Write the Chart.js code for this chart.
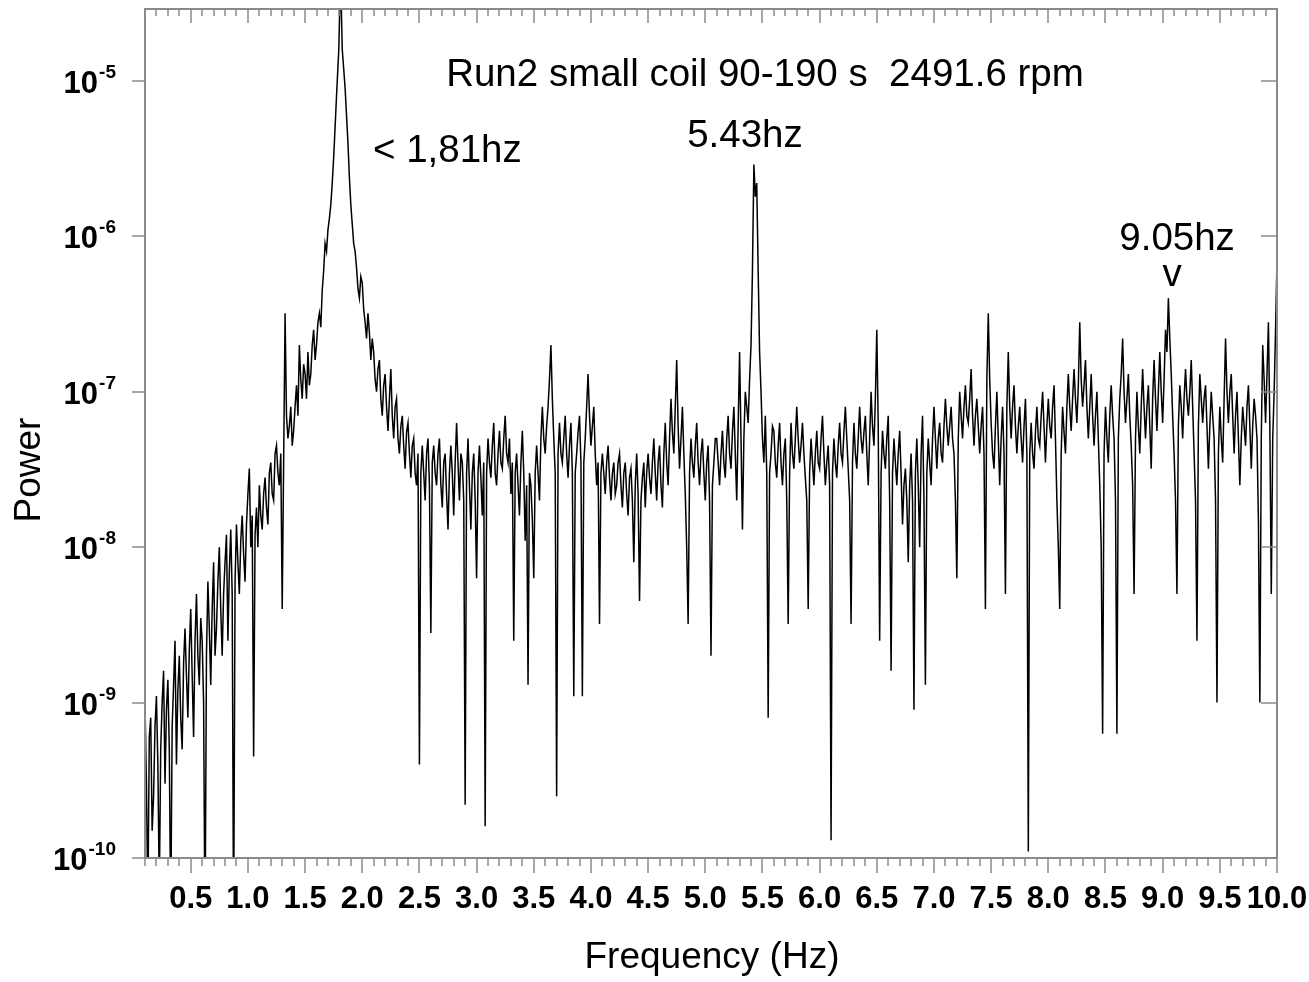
<!DOCTYPE html>
<html>
<head>
<meta charset="utf-8">
<script src="https://cdn.jsdelivr.net/npm/chart.js@4.4.1/dist/chart.umd.min.js"></script>
<style>
  body { margin: 0; background: #fff; }
  canvas { display: block; }
</style>
</head>
<body>
<canvas id="chart" width="1309" height="982"></canvas>
<script>
// Frequency bins (Hz), one row per 0.5 Hz
const freq = [
  0.1,0.1125,0.125,0.1375,0.15,0.1625,0.175,0.1875,0.2,0.2125,0.225,0.2375,0.25,0.2625,0.275,0.2875,0.3,0.3125,0.325,0.3375,0.35,0.3625,0.375,0.3875,0.4,0.4125,0.425,0.4375,0.45,0.4625,0.475,0.4875,0.5,0.5125,0.525,0.5375,0.55,0.5625,0.575,0.5875,
  0.6,0.6125,0.625,0.6375,0.65,0.6625,0.675,0.6875,0.7,0.7125,0.725,0.7375,0.75,0.7625,0.775,0.7875,0.8,0.8125,0.825,0.8375,0.85,0.8625,0.875,0.8875,0.9,0.9125,0.925,0.9375,0.95,0.9625,0.975,0.9875,1,1.0125,1.025,1.0375,1.05,1.0625,1.075,1.0875,
  1.1,1.1125,1.125,1.1375,1.15,1.1625,1.175,1.1875,1.2,1.2125,1.225,1.2375,1.25,1.2625,1.275,1.2875,1.3,1.3125,1.325,1.3375,1.35,1.3625,1.375,1.3875,1.4,1.4125,1.425,1.4375,1.45,1.4625,1.475,1.4875,1.5,1.5125,1.525,1.5375,1.55,1.5625,1.575,1.5875,
  1.6,1.6125,1.625,1.6375,1.65,1.6625,1.675,1.6875,1.7,1.7125,1.725,1.7375,1.75,1.775,1.795,1.81,1.825,1.85,1.875,1.8875,1.9,1.9125,1.925,1.9375,1.95,1.9625,1.975,1.9875,2,2.0125,2.025,2.0375,2.05,2.0625,2.075,2.0875,
  2.1,2.1125,2.125,2.1375,2.15,2.1625,2.175,2.1875,2.2,2.2125,2.225,2.2375,2.25,2.2625,2.275,2.2875,2.3,2.3125,2.325,2.3375,2.35,2.3625,2.375,2.3875,2.4,2.4125,2.425,2.4375,2.45,2.4625,2.475,2.4875,2.5,2.5125,2.525,2.5375,2.55,2.5625,2.575,2.5875,
  2.6,2.6125,2.625,2.6375,2.65,2.6625,2.675,2.6875,2.7,2.7125,2.725,2.7375,2.75,2.7625,2.775,2.7875,2.8,2.8125,2.825,2.8375,2.85,2.8625,2.875,2.8875,2.9,2.9125,2.925,2.9375,2.95,2.9625,2.975,2.9875,3,3.0125,3.025,3.0375,3.05,3.0625,3.075,3.0875,
  3.1,3.1125,3.125,3.1375,3.15,3.1625,3.175,3.1875,3.2,3.2125,3.225,3.2375,3.25,3.2625,3.275,3.2875,3.3,3.3125,3.325,3.3375,3.35,3.3625,3.375,3.3875,3.4,3.4125,3.425,3.4375,3.45,3.4625,3.475,3.4875,3.5,3.5125,3.525,3.5375,3.55,3.5625,3.575,3.5875,
  3.6,3.6125,3.625,3.6375,3.65,3.6625,3.675,3.6875,3.7,3.7125,3.725,3.7375,3.75,3.7625,3.775,3.7875,3.8,3.8125,3.825,3.8375,3.85,3.8625,3.875,3.8875,3.9,3.9125,3.925,3.9375,3.95,3.9625,3.975,3.9875,4,4.0125,4.025,4.0375,4.05,4.0625,4.075,4.0875,
  4.1,4.1125,4.125,4.1375,4.15,4.1625,4.175,4.1875,4.2,4.2125,4.225,4.2375,4.25,4.2625,4.275,4.2875,4.3,4.3125,4.325,4.3375,4.35,4.3625,4.375,4.3875,4.4,4.4125,4.425,4.4375,4.45,4.4625,4.475,4.4875,4.5,4.5125,4.525,4.5375,4.55,4.5625,4.575,4.5875,
  4.6,4.6125,4.625,4.6375,4.65,4.6625,4.675,4.6875,4.7,4.7125,4.725,4.7375,4.75,4.7625,4.775,4.7875,4.8,4.8125,4.825,4.8375,4.85,4.8625,4.875,4.8875,4.9,4.9125,4.925,4.9375,4.95,4.9625,4.975,4.9875,5,5.0125,5.025,5.0375,5.05,5.0625,5.075,5.0875,
  5.1,5.1125,5.125,5.1375,5.15,5.1625,5.175,5.1875,5.2,5.2125,5.225,5.2375,5.25,5.2625,5.275,5.2875,5.3,5.3125,5.325,5.3375,5.35,5.3625,5.375,5.3875,5.4,5.4125,5.425,5.4375,5.45,5.4625,5.475,5.4875,5.5,5.5125,5.525,5.5375,5.55,5.5625,5.575,5.5875,
  5.6,5.6125,5.625,5.6375,5.65,5.6625,5.675,5.6875,5.7,5.7125,5.725,5.7375,5.75,5.7625,5.775,5.7875,5.8,5.8125,5.825,5.8375,5.85,5.8625,5.875,5.8875,5.9,5.9125,5.925,5.9375,5.95,5.9625,5.975,5.9875,6,6.0125,6.025,6.0375,6.05,6.0625,6.075,6.0875,
  6.1,6.1125,6.125,6.1375,6.15,6.1625,6.175,6.1875,6.2,6.2125,6.225,6.2375,6.25,6.2625,6.275,6.2875,6.3,6.3125,6.325,6.3375,6.35,6.3625,6.375,6.3875,6.4,6.4125,6.425,6.4375,6.45,6.4625,6.475,6.4875,6.5,6.5125,6.525,6.5375,6.55,6.5625,6.575,6.5875,
  6.6,6.6125,6.625,6.6375,6.65,6.6625,6.675,6.6875,6.7,6.7125,6.725,6.7375,6.75,6.7625,6.775,6.7875,6.8,6.8125,6.825,6.8375,6.85,6.8625,6.875,6.8875,6.9,6.9125,6.925,6.9375,6.95,6.9625,6.975,6.9875,7,7.0125,7.025,7.0375,7.05,7.0625,7.075,7.0875,
  7.1,7.1125,7.125,7.1375,7.15,7.1625,7.175,7.1875,7.2,7.2125,7.225,7.2375,7.25,7.2625,7.275,7.2875,7.3,7.3125,7.325,7.3375,7.35,7.3625,7.375,7.3875,7.4,7.4125,7.425,7.4375,7.45,7.4625,7.475,7.4875,7.5,7.5125,7.525,7.5375,7.55,7.5625,7.575,7.5875,
  7.6,7.6125,7.625,7.6375,7.65,7.6625,7.675,7.6875,7.7,7.7125,7.725,7.7375,7.75,7.7625,7.775,7.7875,7.8,7.8125,7.825,7.8375,7.85,7.8625,7.875,7.8875,7.9,7.9125,7.925,7.9375,7.95,7.9625,7.975,7.9875,8,8.0125,8.025,8.0375,8.05,8.0625,8.075,8.0875,
  8.1,8.1125,8.125,8.1375,8.15,8.1625,8.175,8.1875,8.2,8.2125,8.225,8.2375,8.25,8.2625,8.275,8.2875,8.3,8.3125,8.325,8.3375,8.35,8.3625,8.375,8.3875,8.4,8.4125,8.425,8.4375,8.45,8.4625,8.475,8.4875,8.5,8.5125,8.525,8.5375,8.55,8.5625,8.575,8.5875,
  8.6,8.6125,8.625,8.6375,8.65,8.6625,8.675,8.6875,8.7,8.7125,8.725,8.7375,8.75,8.7625,8.775,8.7875,8.8,8.8125,8.825,8.8375,8.85,8.8625,8.875,8.8875,8.9,8.9125,8.925,8.9375,8.95,8.9625,8.975,8.9875,9,9.0125,9.025,9.0375,9.05,9.0625,9.075,9.0875,
  9.1,9.1125,9.125,9.1375,9.15,9.1625,9.175,9.1875,9.2,9.2125,9.225,9.2375,9.25,9.2625,9.275,9.2875,9.3,9.3125,9.325,9.3375,9.35,9.3625,9.375,9.3875,9.4,9.4125,9.425,9.4375,9.45,9.4625,9.475,9.4875,9.5,9.5125,9.525,9.5375,9.55,9.5625,9.575,9.5875,
  9.6,9.6125,9.625,9.6375,9.65,9.6625,9.675,9.6875,9.7,9.7125,9.725,9.7375,9.75,9.7625,9.775,9.7875,9.8,9.8125,9.825,9.8375,9.85,9.8625,9.875,9.8875,9.9,9.9125,9.925,9.9375,9.95,9.9625,9.975,9.9875,10
];

// Power at each bin, same rows
const power = [
  1e-9,3e-10,5e-11,6e-10,8e-10,1.5e-10,2.5e-10,7e-10,1.1e-9,4e-10,6e-11,5e-10,1e-9,1.6e-9,3e-10,9e-10,1.4e-9,5e-10,4e-11,7e-10,1.3e-9,2.5e-9,4e-10,1.2e-9,2e-9,8e-10,5e-10,1.8e-9,3e-9,1.5e-9,8e-10,2.2e-9,4e-9,1.5e-9,6e-10,2.5e-9,5e-9,2e-9,1.3e-9,3.5e-9,
  2.5e-9,1e-9,3e-11,2e-9,6e-9,3e-9,1.3e-9,4e-9,8e-9,2e-9,3e-9,6e-9,1e-8,4e-9,2e-9,5e-9,8e-9,1.2e-8,2.5e-9,7e-9,1.3e-8,5e-9,3e-11,6e-9,1.4e-8,8e-9,5e-9,1.1e-8,1.6e-8,9e-9,6e-9,1.4e-8,2.2e-8,3.2e-8,1e-8,1.6e-8,4.5e-10,1.2e-8,1.8e-8,1e-8,
  2.5e-8,1.6e-8,1.3e-8,2.2e-8,2.8e-8,1.8e-8,1.4e-8,3e-8,3.5e-8,2.2e-8,2e-8,4e-8,4.5e-8,3e-8,2.5e-8,4e-8,4e-9,3.5e-8,3.2e-7,7e-8,5e-8,6e-8,8e-8,4.5e-8,5.6e-8,8e-8,1.1e-7,7e-8,2e-7,1.2e-7,9e-8,1.5e-7,1.3e-7,9e-8,1.8e-7,1.1e-7,1.3e-7,2e-7,2.5e-7,1.6e-7,
  2e-7,2.8e-7,3.2e-7,2.6e-7,4.5e-7,6e-7,9e-7,8e-7,1.1e-6,1.3e-6,1.6e-6,2.2e-6,3.2e-6,8e-6,1.6e-5,5e-5,1.6e-5,9e-6,4e-6,2.4e-6,1.6e-6,1.2e-6,9e-7,8e-7,6.3e-7,4.6e-7,4e-7,5.5e-7,5e-7,3.4e-7,2.8e-7,2.2e-7,3.2e-7,2.4e-7,1.6e-7,2.2e-7,
  1.8e-7,1.2e-7,1e-7,1.4e-7,1.6e-7,9e-8,7e-8,1.1e-7,1.3e-7,8e-8,5.6e-8,9e-8,1.4e-7,7e-8,5e-8,8e-8,9e-8,5e-8,4e-8,6e-8,7e-8,4.5e-8,3.2e-8,5.5e-8,6.3e-8,4e-8,2.8e-8,4.5e-8,5e-8,3e-8,2.5e-8,4e-8,4e-10,3e-8,4.5e-8,3e-8,2e-8,4e-8,5e-8,2.5e-8,
  2.8e-9,3.5e-8,4.5e-8,3e-8,2.5e-8,4e-8,5e-8,2.5e-8,1.8e-8,3.5e-8,4e-8,2.2e-8,1.3e-8,3e-8,4.5e-8,3e-8,1.6e-8,3.5e-8,6.3e-8,3.5e-8,2e-8,4e-8,3.5e-8,2e-8,2.2e-10,3e-8,5e-8,2.5e-8,1.3e-8,3e-8,4e-8,2e-8,6.3e-9,3e-8,4.5e-8,2.8e-8,1.6e-8,3.5e-8,1.6e-10,3e-8,
  5e-8,3.5e-8,2.8e-8,4.5e-8,6.3e-8,3e-8,2.5e-8,4e-8,5.6e-8,3.5e-8,3.2e-8,5e-8,7e-8,4e-8,3.5e-8,5e-8,2.2e-8,3.5e-8,2.5e-9,3e-8,4e-8,2.5e-8,1.6e-8,3.5e-8,5.6e-8,3e-8,1.1e-8,2.5e-8,1.3e-9,3e-8,2.5e-8,1.5e-8,6.3e-9,3e-8,4.5e-8,3e-8,2e-8,5e-8,8e-8,5e-8,
  4e-8,6e-8,8e-8,1.2e-7,2e-7,9e-8,5e-8,3e-8,2.5e-10,4e-8,6.3e-8,4e-8,3.5e-8,5e-8,7e-8,4e-8,2.8e-8,4.5e-8,6.3e-8,3e-8,1.1e-9,3e-8,4e-8,5.5e-8,7e-8,3.5e-8,1.1e-9,3.5e-8,5e-8,8e-8,1.3e-7,7e-8,4.5e-8,6e-8,8e-8,4e-8,2.5e-8,3.5e-8,3.2e-9,3e-8,
  4e-8,3e-8,2.2e-8,3.5e-8,4.5e-8,2.8e-8,2e-8,3e-8,3.5e-8,2.2e-8,2.5e-8,3.5e-8,4e-8,2.5e-8,1.8e-8,3e-8,3.5e-8,2.2e-8,1.6e-8,2.8e-8,3.2e-8,2e-8,8e-9,2.5e-8,4e-8,2.2e-8,4.5e-9,2e-8,2.8e-8,3.5e-8,1.8e-8,3e-8,4e-8,2.8e-8,2.2e-8,3.5e-8,5e-8,3e-8,2e-8,3.5e-8,
  4.5e-8,2.5e-8,1.8e-8,4e-8,6.3e-8,3.5e-8,2.5e-8,5e-8,9e-8,5.5e-8,4e-8,8e-8,1.6e-7,6e-8,3.2e-8,5e-8,8e-8,4e-8,2.2e-8,1e-8,3.2e-9,3e-8,5e-8,3.5e-8,2.8e-8,4.5e-8,6.3e-8,3.5e-8,2.5e-8,4e-8,5e-8,3e-8,2e-8,3.5e-8,4.5e-8,2e-8,2e-9,2.5e-8,3.5e-8,5e-8,
  5e-8,3.5e-8,2.5e-8,4e-8,5.6e-8,3.5e-8,2.8e-8,5e-8,7e-8,4e-8,3.2e-8,5.5e-8,8e-8,4e-8,2e-8,6e-8,1.8e-7,5e-8,1.3e-8,5e-8,1e-7,8e-8,6.3e-8,1.2e-7,2e-7,6e-7,2.9e-6,1.8e-6,2.2e-6,6e-7,1.8e-7,1e-7,5e-8,3.5e-8,7e-8,3e-8,8e-10,3e-8,4e-8,6e-8,
  5.6e-8,3.5e-8,2.8e-8,4.5e-8,6.3e-8,3.5e-8,2.5e-8,4e-8,5e-8,2e-8,3.2e-9,3e-8,6.3e-8,4e-8,3.2e-8,5e-8,8e-8,5e-8,3.5e-8,4.5e-8,6.3e-8,4e-8,2.8e-8,2e-8,4e-9,3e-8,5e-8,3.5e-8,2.5e-8,4e-8,5.6e-8,3.5e-8,3.2e-8,5e-8,7e-8,4e-8,2.5e-8,3.5e-8,4.5e-8,2.5e-8,
  1.3e-10,3e-8,5e-8,3.5e-8,2.8e-8,4.5e-8,6.3e-8,4e-8,3.5e-8,5.5e-8,8e-8,5e-8,3.2e-8,2e-8,3.2e-9,3.5e-8,6.3e-8,4e-8,3.2e-8,5e-8,8e-8,5e-8,4e-8,5.5e-8,7e-8,4e-8,2.5e-8,5e-8,1e-7,6e-8,4.5e-8,9e-8,2.5e-7,6e-8,2.5e-9,3e-8,5.6e-8,4e-8,3.2e-8,5e-8,
  7e-8,2e-8,1.6e-9,3e-8,5e-8,3.5e-8,2.5e-8,4e-8,5.6e-8,3e-8,1.4e-8,2.5e-8,3.2e-8,2e-8,8e-9,2.5e-8,4e-8,2e-8,9e-10,3e-8,5e-8,2.5e-8,1e-8,4e-8,7e-8,2e-8,1.3e-9,3e-8,5e-8,3.5e-8,2.5e-8,5e-8,8e-8,5e-8,3.2e-8,5e-8,6.3e-8,4e-8,3.5e-8,6e-8,
  9e-8,6e-8,4.5e-8,6e-8,8e-8,5e-8,4e-8,2e-8,6.3e-9,5e-8,1e-7,7e-8,5e-8,8e-8,1.1e-7,7e-8,6.3e-8,9e-8,1.4e-7,7e-8,4.5e-8,7e-8,9e-8,6e-8,4e-8,6e-8,8e-8,4e-8,4e-9,1.2e-7,3.2e-7,1.2e-7,6.3e-8,4e-8,3.2e-8,6e-8,1e-7,5e-8,2.5e-8,5e-8,
  8e-8,4e-8,5e-9,8e-8,1.8e-7,8e-8,5e-8,8e-8,1.1e-7,6e-8,4e-8,6e-8,8e-8,5e-8,3.5e-8,6e-8,9e-8,4e-8,1.1e-10,4e-8,6.3e-8,4e-8,3.2e-8,5.5e-8,8e-8,5e-8,4.5e-8,7e-8,1e-7,6e-8,3.5e-8,6e-8,9e-8,6e-8,5e-8,8e-8,1.1e-7,5e-8,2e-8,1e-8,
  4e-9,4e-8,8e-8,5.5e-8,4e-8,8e-8,1.3e-7,8e-8,5.6e-8,9e-8,1.4e-7,9e-8,6.3e-8,1.1e-7,2.8e-7,1.2e-7,8e-8,1.1e-7,1.6e-7,8e-8,5e-8,8e-8,1.3e-7,7e-8,4.5e-8,7e-8,1e-7,5e-8,2.5e-8,1e-8,6.3e-10,4e-8,8e-8,5e-8,3.5e-8,7e-8,1.1e-7,7e-8,5e-8,2e-8,
  6.3e-10,5e-8,9e-8,1.3e-7,2.2e-7,1e-7,6.3e-8,9e-8,1.3e-7,7e-8,4.5e-8,2.5e-8,5e-9,5e-8,1e-7,6e-8,4e-8,8e-8,1.4e-7,8e-8,5e-8,8e-8,1.1e-7,6e-8,3.2e-8,9e-8,1.6e-7,9e-8,5.6e-8,1e-7,1.8e-7,1e-7,6.3e-8,1.2e-7,2.5e-7,1.8e-7,4e-7,2.2e-7,1.3e-7,7e-8,
  4e-8,2e-8,5e-9,6e-8,1.1e-7,8e-8,5e-8,9e-8,1.4e-7,9e-8,7e-8,1e-7,1.6e-7,8e-8,4e-8,2e-8,2.5e-9,6e-8,1.3e-7,9e-8,6.3e-8,9e-8,1.1e-7,6e-8,3.2e-8,6e-8,1e-7,7e-8,5e-8,2e-8,1e-9,4e-8,8e-8,5e-8,3.5e-8,9e-8,2.2e-7,1e-7,6.3e-8,1e-7,
  1.3e-7,7e-8,4e-8,7e-8,1e-7,5e-8,2.5e-8,5e-8,8e-8,6e-8,4.5e-8,8e-8,1.1e-7,6e-8,3.2e-8,6e-8,9e-8,7e-8,5e-8,1.5e-8,1e-9,5e-8,2e-7,1.2e-7,6.3e-8,1.3e-7,2.8e-7,6e-8,5e-9,5e-8,1e-7,2.5e-7,7e-7
];

// Axis tick labels
const xTickValues = [0.5,1,1.5,2,2.5,3,3.5,4,4.5,5,5.5,6,6.5,7,7.5,8,8.5,9,9.5,10];
const xTickLabels = ['0.5','1.0','1.5','2.0','2.5','3.0','3.5','4.0','4.5','5.0','5.5','6.0','6.5','7.0','7.5','8.0','8.5','9.0','9.5','10.0'];
const yTickValues = [1e-5,1e-6,1e-7,1e-8,1e-9,1e-10];
const yTickExponents = ['-5','-6','-7','-8','-9','-10'];

const titleText = 'Run2 small coil 90-190 s  2491.6 rpm';
const xTitle = 'Frequency (Hz)';
const yTitle = 'Power';

// annotations: text, frequency, power where they sit
const notes = [
  { text: '< 1,81hz', x: 2.094, y: 3.5e-6, align: 'left' },
  { text: '5.43hz', x: 5.347, y: 4.4e-6, align: 'center' },
  { text: '9.05hz', x: 9.126, y: 9.6e-7, align: 'center' },
  { text: 'v', x: 9.082, y: 5.6e-7, align: 'center' }
];

const FONT = "'Liberation Sans', Arial, Helvetica, sans-serif";
const GREY = '#8a8a8a';

const axisPlugin = {
  id: 'axisPlugin',
  afterDatasetsDraw(chart) {
    const { ctx, chartArea: a, scales: { x, y } } = chart;
    ctx.save();

    // frame
    ctx.strokeStyle = GREY;
    ctx.lineWidth = 2;
    ctx.strokeRect(a.left, a.top, a.right - a.left, a.bottom - a.top);

    // x ticks, every 0.1 Hz, major every 0.5
    ctx.lineWidth = 1.5;
    ctx.beginPath();
    for (let k = 1; k <= 100; k++) {
      const px = Math.round(x.getPixelForValue(k / 10));
      const major = k % 5 === 0;
      ctx.moveTo(px, a.bottom);
      ctx.lineTo(px, a.bottom + (major ? 15 : 8));
      ctx.moveTo(px, a.top);
      ctx.lineTo(px, a.top + (major ? 14 : 7));
    }
    // y ticks at each decade
    yTickValues.forEach(v => {
      const py = Math.round(y.getPixelForValue(v));
      ctx.moveTo(a.left - 13, py);
      ctx.lineTo(a.left, py);
      ctx.moveTo(a.right - 16, py);
      ctx.lineTo(a.right, py);
    });
    ctx.stroke();

    ctx.fillStyle = '#000';

    // x tick labels
    ctx.font = 'bold 31px ' + FONT;
    ctx.textAlign = 'center';
    ctx.textBaseline = 'middle';
    xTickValues.forEach((v, i) => {
      ctx.fillText(xTickLabels[i], x.getPixelForValue(v), 899);
    });

    // y tick labels, 10 with raised exponent
    ctx.textAlign = 'right';
    ctx.textBaseline = 'alphabetic';
    yTickValues.forEach((v, i) => {
      const py = y.getPixelForValue(v);
      ctx.font = 'bold 19px ' + FONT;
      const ew = ctx.measureText(yTickExponents[i]).width;
      ctx.fillText(yTickExponents[i], 116, py - 3);
      ctx.font = 'bold 31px ' + FONT;
      ctx.fillText('10', 116 - ew - 1, py + 12);
    });

    // axis titles
    ctx.font = '37px ' + FONT;
    ctx.textAlign = 'center';
    ctx.textBaseline = 'middle';
    ctx.fillText(xTitle, 712, 958);
    ctx.save();
    ctx.translate(30, 470);
    ctx.rotate(-Math.PI / 2);
    ctx.fillText(yTitle, 0, 0);
    ctx.restore();

    // title inside plot
    ctx.font = '38.5px ' + FONT;
    ctx.fillText(titleText, 765, 75);

    // peak annotations
    notes.forEach(n => {
      ctx.textAlign = n.align;
      ctx.fillText(n.text, x.getPixelForValue(n.x), y.getPixelForValue(n.y));
    });

    ctx.restore();
  }
};

const points = freq.map((f, i) => ({ x: f, y: power[i] }));

new Chart(document.getElementById('chart'), {
  type: 'line',
  data: {
    datasets: [{
      data: points,
      borderColor: '#000',
      borderWidth: 1.5,
      pointRadius: 0,
      tension: 0,
      fill: false
    }]
  },
  options: {
    responsive: false,
    animation: false,
    devicePixelRatio: 1,
    layout: { padding: { left: 145, top: 9, right: 32, bottom: 124 } },
    scales: {
      x: { type: 'linear', min: 0.1, max: 10, display: false },
      y: { type: 'logarithmic', min: 1e-10, max: 2.9e-5, display: false }
    },
    plugins: {
      legend: { display: false },
      tooltip: { enabled: false }
    }
  },
  plugins: [axisPlugin]
});
</script>
</body>
</html>
